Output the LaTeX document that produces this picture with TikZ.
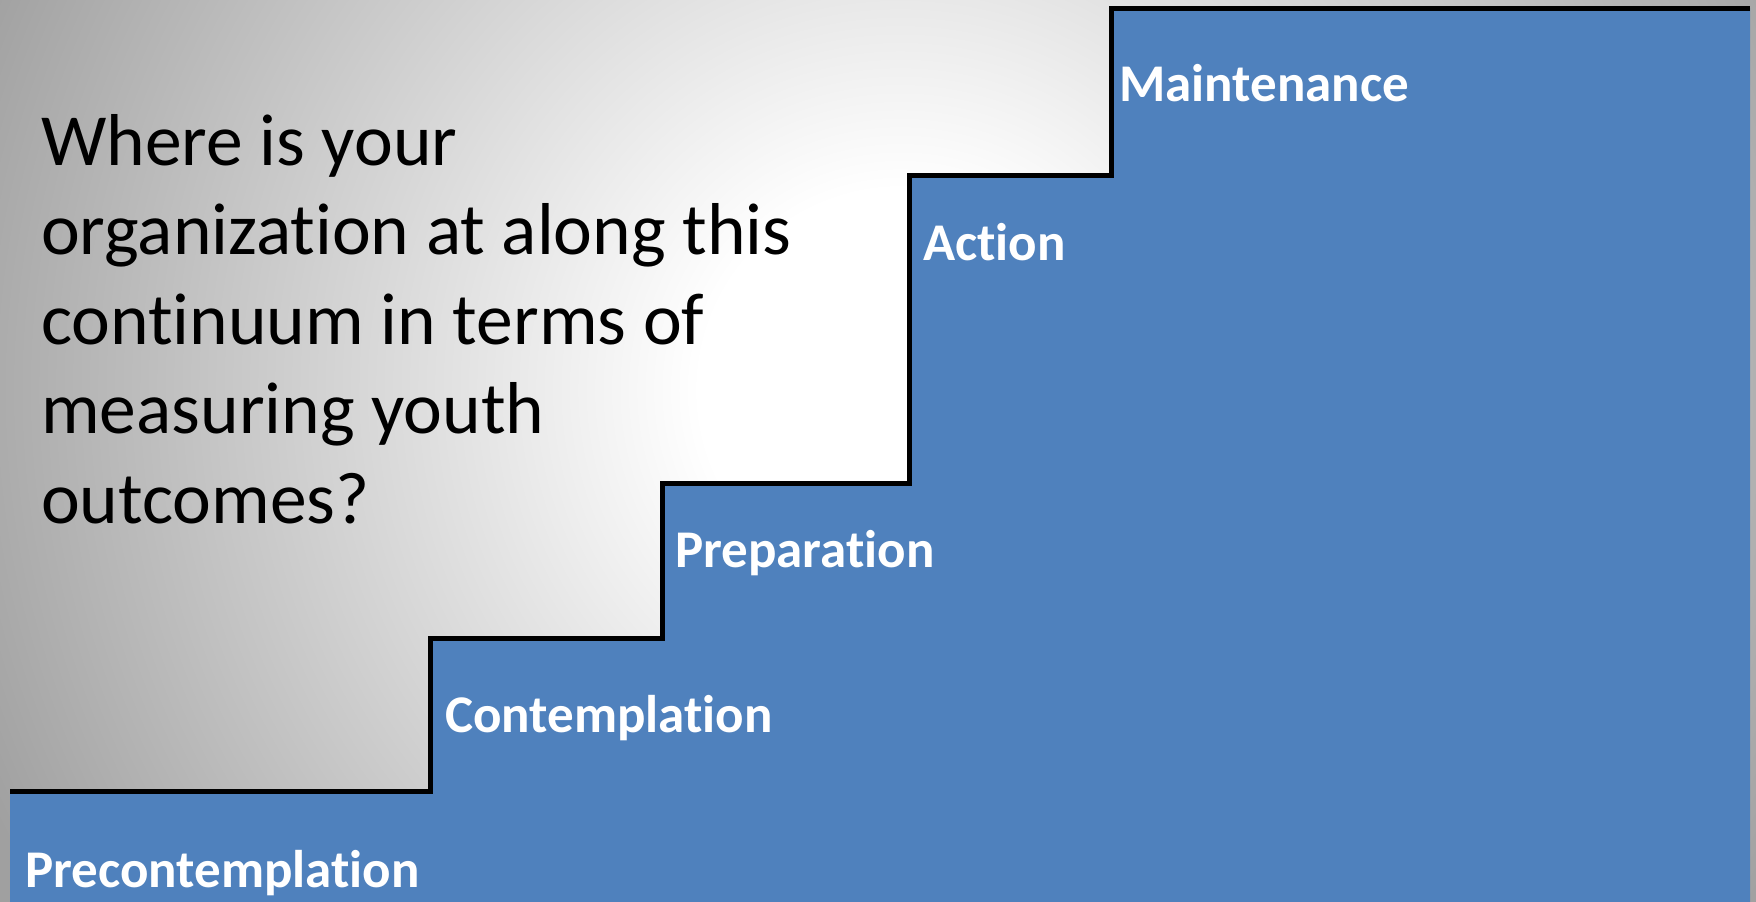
\documentclass[tikz,border=0pt]{standalone}
\usepackage{fontspec}
\setmainfont{Carlito}[RawFeature={-liga;-clig;-dlig}]
\definecolor{stepblue}{HTML}{4F81BD}
\definecolor{bgouter}{HTML}{A0A0A0}
\pgfdeclareradialshading{bgshade}{\pgfpoint{0bp}{0bp}}{color(0bp)=(white); color(2.5bp)=(white); color(12.5bp)=(bgouter); color(50bp)=(bgouter)}
\tikzset{
  question/.style={anchor=base west, inner sep=0pt, text=black, font=\fontsize{73.5}{89.5}\selectfont},
  stagelabel/.style={anchor=base west, inner sep=0pt, text=white, font=\fontsize{53}{60}\selectfont\bfseries},
  stairline/.style={draw=black, line width=5pt, line join=miter, line cap=butt}
}
\begin{document}
\begin{tikzpicture}[x=1pt, y=-1pt]
  \useasboundingbox (0,0) rectangle (1756,902);
  % background
  \begin{scope}
    \clip (0,0) rectangle (1756,902);
    \fill[shading=bgshade] (900,390) circle (2000);
  \end{scope}
  % staircase fill
  \fill[stepblue] (10,791) -- (430,791) -- (430,638) -- (662,638) -- (662,483)
     -- (909,483) -- (909,175) -- (1111,175) -- (1111,8) -- (1750,8)
     -- (1750,902) -- (10,902) -- cycle;
  % staircase outline
  \coordinate (s0) at (10,791);
  \coordinate (s1) at (430,791);
  \coordinate (s2) at (430,638);
  \coordinate (s3) at (662,638);
  \coordinate (s4) at (662,483);
  \coordinate (s5) at (909,483);
  \coordinate (s6) at (909,175);
  \coordinate (s7) at (1111,175);
  \coordinate (s8) at (1111,8);
  \coordinate (s9) at (1750,8);
  \draw[stairline] (s0) -- (s1) -- (s2) -- (s3) -- (s4) -- (s5) -- (s6) -- (s7) -- (s8) -- (s9);
  % stage labels
  \node[stagelabel] (pre) at (25,887) {Precontemplation};
  \node[stagelabel] (con) at (445,732) {Contemplation};
  \node[stagelabel] (prep) at (675,567) {Preparation};
  \node[stagelabel] (act) at (923,260) {Action};
  \node[stagelabel] (main) at (1119,101) {Maintenance};
  % question
  \node[question] (q1) at (41,165) {Where is your};
  \node[question] (q2) at (41,254.5) {organization at along this};
  \node[question] (q3) at (41,344) {continuum in terms of};
  \node[question] (q4) at (41,433.5) {measuring youth};
  \node[question] (q5) at (41,523) {outcomes?};
\end{tikzpicture}
\end{document}
